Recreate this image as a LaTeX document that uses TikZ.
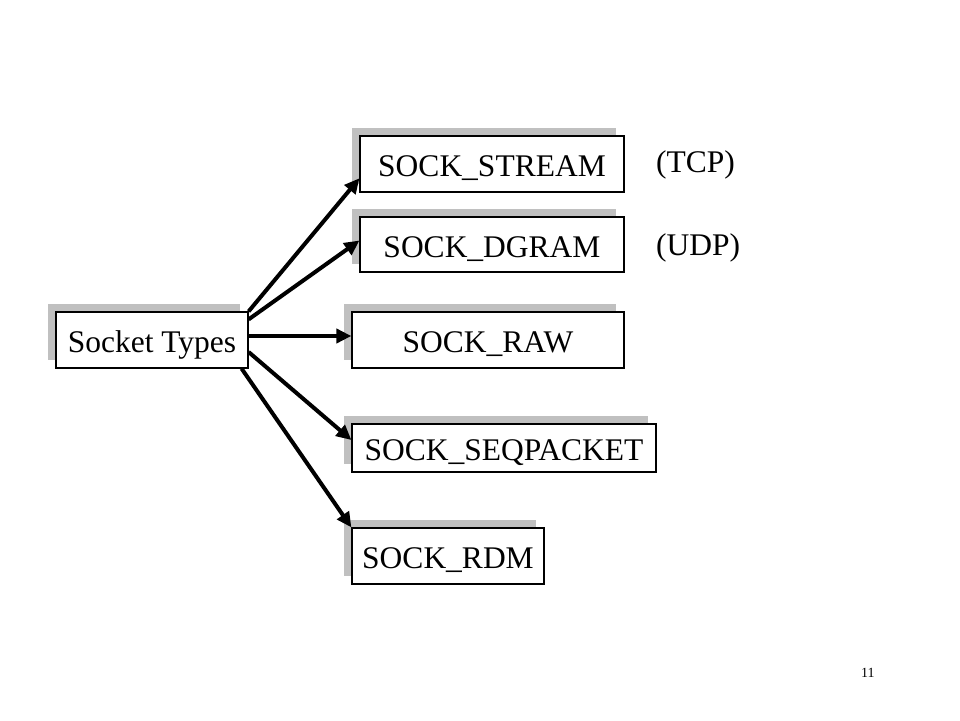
\documentclass[tikz,border=0pt]{standalone}
\usepackage{fontspec}
\setmainfont{Liberation Serif}
\usetikzlibrary{shadows,arrows.meta,calc}
\definecolor{shgray}{HTML}{C0C0C0}
\begin{document}
\begin{tikzpicture}[x=1pt,y=-1pt,
  typebox/.style={draw=black,line width=1.2pt,fill=white,inner sep=0pt,
    text height=30pt,text depth=5pt,
    font=\fontsize{31.5}{37}\selectfont,
    drop shadow={shadow xshift=-8pt,shadow yshift=8pt,fill=shgray,opacity=1}},
  conn/.style={line width=4pt,-{Triangle[length=15pt,width=14pt]}},
  lbl/.style={font=\fontsize{31.5}{37}\selectfont,inner sep=0pt,anchor=base west}]
\useasboundingbox[fill=white] (0,0) rectangle (960,720);
\node[typebox,minimum width=192pt,minimum height=56pt] (st) at (152,340) {Socket Types};
\node[typebox,minimum width=264pt,minimum height=56pt] (stream) at (492,164) {SOCK\_STREAM};
\node[typebox,minimum width=264pt,minimum height=55pt] (dgram) at (492,244.5) {SOCK\_DGRAM};
\node[typebox,minimum width=272pt,minimum height=56pt] (raw) at (488,340) {SOCK\_RAW};
\node[typebox,minimum width=304pt,minimum height=48pt] (seq) at (504,448) {SOCK\_SEQPACKET};
\node[typebox,minimum width=192pt,minimum height=56pt] (rdm) at (448,556) {SOCK\_RDM};
\node[lbl] (tcp) at (656,172) {(TCP)};
\node[lbl] (udp) at (656,255) {(UDP)};
\node[font=\fontsize{14}{16}\selectfont,inner sep=0pt,anchor=base west] (pg) at (861,677) {11};
\draw[conn] (st.north east) -- ($(stream.south west)!0.25!(stream.north west)$);
\draw[conn] ([yshift=-8pt]st.north east) -- ([yshift=4pt]dgram.west);
\draw[conn] ([yshift=4pt]st.east) -- ([yshift=4pt]raw.west);
\draw[conn] ([yshift=-12pt]st.east) -- ([yshift=8pt]seq.west);
\draw[conn] ([xshift=-7pt]st.south east) -- (rdm.north west);
\end{tikzpicture}
\end{document}
